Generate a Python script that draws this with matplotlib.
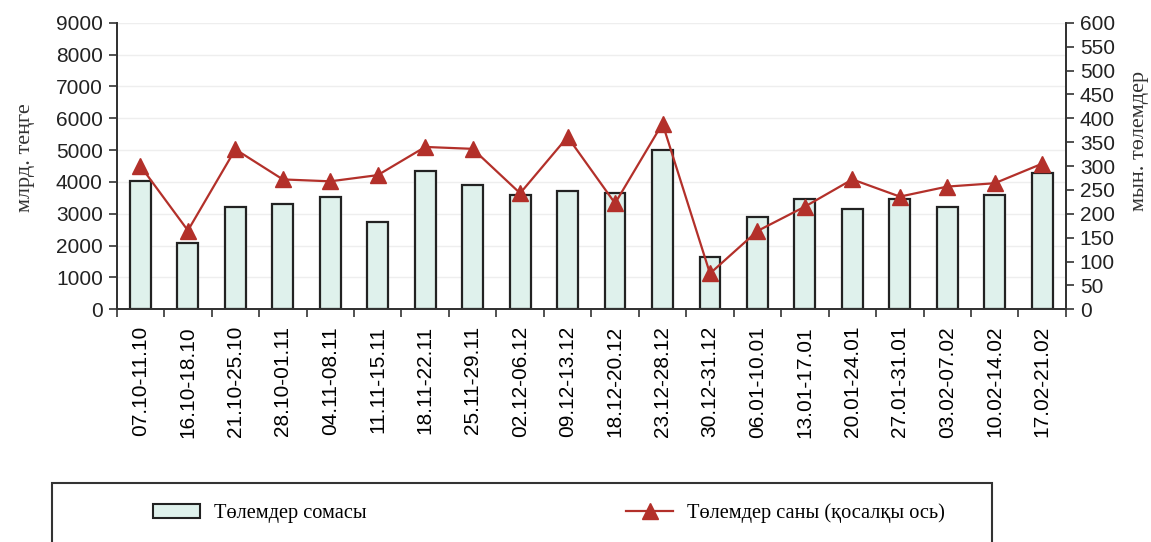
import matplotlib.pyplot as plt
from matplotlib.patches import Rectangle
from matplotlib.lines import Line2D
from matplotlib.patches import Patch

# Кезеңдер
periods = ["07.10-11.10", "16.10-18.10", "21.10-25.10", "28.10-01.11", "04.11-08.11",
           "11.11-15.11", "18.11-22.11", "25.11-29.11", "02.12-06.12", "09.12-13.12",
           "18.12-20.12", "23.12-28.12", "30.12-31.12", "06.01-10.01", "13.01-17.01",
           "20.01-24.01", "27.01-31.01", "03.02-07.02", "10.02-14.02", "17.02-21.02"]

# Төлемдер сомасы, млрд. теңге
amounts = [4030, 2080, 3200, 3300, 3520, 2750, 4350, 3920, 3600, 3720,
           3650, 5000, 1650, 2900, 3470, 3150, 3460, 3200, 3600, 4280]

# Төлемдер саны, мын. төлемдер
counts = [300, 165, 335, 272, 268, 281, 340, 336, 243, 361,
          222, 389, 75, 164, 215, 272, 236, 257, 264, 305]

bar_face = "#dff1ec"
bar_edge = "#222222"
line_col = "#b3302a"
sans = "Liberation Sans"
serif = "Liberation Serif"

fig = plt.figure(figsize=(11.51, 5.42), dpi=100)
ax = fig.add_axes([0.1014, 0.4293, 0.8247, 0.5287])
ax2 = ax.twinx()

x = list(range(len(periods)))
ax.bar(x, amounts, width=0.44, color=bar_face, edgecolor=bar_edge, linewidth=1.6, zorder=2)
ax2.plot(x, counts, color=line_col, linewidth=1.6, marker="^", markersize=12,
         markerfacecolor=line_col, markeredgecolor=line_col, zorder=3)

ax.set_xlim(-0.5, len(periods) - 0.5)
ax.set_ylim(0, 9000)
ax2.set_ylim(0, 600)
ax.set_yticks(range(0, 9001, 1000))
ax2.set_yticks(range(0, 601, 50))

# x ticks at category boundaries, labels in the middle
ax.set_xticks([i - 0.5 for i in range(len(periods) + 1)])
ax.set_xticklabels([])
ax.set_xticks(x, minor=True)
ax.set_xticklabels(periods, minor=True, rotation=90, fontsize=15, family=sans)
ax.tick_params(axis="x", which="minor", length=0, pad=12)
ax.tick_params(axis="x", which="major", length=6, width=1.2, direction="out", color="#333333")

ax.tick_params(axis="y", length=6, width=1.2, color="#333333", labelsize=15, pad=4)
ax2.tick_params(axis="y", length=6, width=1.2, color="#333333", labelsize=15, pad=4)
for lab in ax.get_yticklabels() + ax2.get_yticklabels():
    lab.set_family(sans)
    lab.set_color("#222222")

ax.yaxis.grid(True, color="#eeeeee", linewidth=1.0, zorder=0)
ax.set_axisbelow(True)
ax.set_zorder(ax2.get_zorder() - 1)
ax2.patch.set_visible(False)

for a in (ax, ax2):
    a.spines["top"].set_visible(False)
    for s in ("left", "right", "bottom"):
        a.spines[s].set_color("#333333")
        a.spines[s].set_linewidth(1.3)

fig.text(0.022, 0.71, "млрд. теңге", rotation=90, ha="center", va="center",
         fontsize=16, family=serif, color="#333333")
fig.text(0.99, 0.74, "мын. төлемдер", rotation=90, ha="center", va="center",
         fontsize=16, family=serif, color="#333333")

# Легенда
fig.patches.append(Rectangle((0.0452, -0.05), 0.8167, 0.1589, transform=fig.transFigure,
                             fill=False, edgecolor="#333333", linewidth=1.5))
handles = [Patch(facecolor=bar_face, edgecolor=bar_edge, linewidth=1.5),
           Line2D([0], [0], color=line_col, linewidth=1.6, marker="^", markersize=12)]
labels = ["Төлемдер сомасы", "Төлемдер саны (қосалқы ось)"]
fig.legend(handles, labels, ncol=2, loc="center left", bbox_to_anchor=(0.1169, 0.0535),
           frameon=False, handlelength=2.3, handletextpad=0.7, columnspacing=12.7,
           prop={"family": serif, "size": 14.7})

fig.savefig("out.png", dpi=100)
